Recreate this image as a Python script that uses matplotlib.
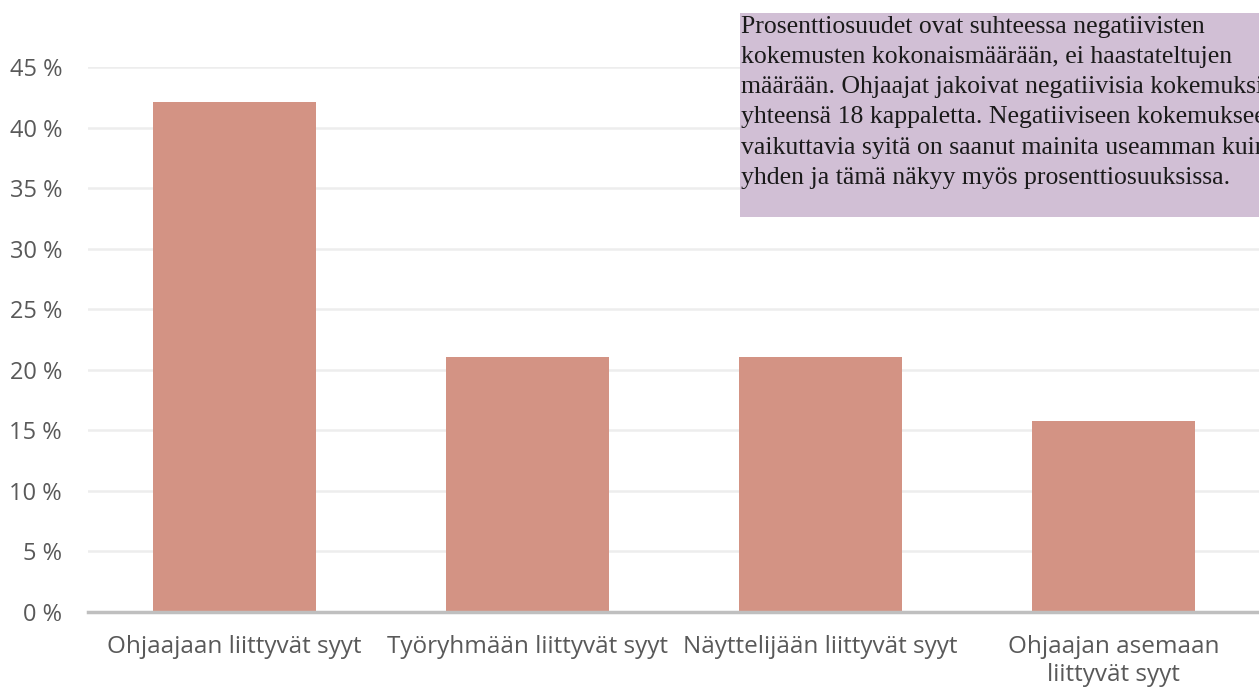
import matplotlib.pyplot as plt
from matplotlib.ticker import FuncFormatter, MultipleLocator

categories = ["Ohjaajaan liittyvät syyt", "Työryhmään liittyvät syyt",
              "Näyttelijään liittyvät syyt", "Ohjaajan asemaan\nliittyvät syyt"]
values = [0.421, 0.2105, 0.2105, 0.158]
note = ("Prosenttiosuudet ovat suhteessa negatiivisten\n"
        "kokemusten kokonaismäärään, ei haastateltujen\n"
        "määrään. Ohjaajat jakoivat negatiivisia kokemuksia\n"
        "yhteensä 18 kappaletta. Negatiiviseen kokemukseen\n"
        "vaikuttavia syitä on saanut mainita useamman kuin\n"
        "yhden ja tämä näkyy myös prosenttiosuuksissa.")

W, H = 1259, 688
fig = plt.figure(figsize=(W/100, H/100), dpi=100)
ax = fig.add_axes([88/W, (H-612)/H, (1260-88)/W, (612-67)/H])

x = range(len(categories))
ax.bar(x, values, width=0.557, color="#D39384", zorder=2)
ax.set_xlim(-0.5, 3.5)
ax.set_ylim(0, 0.45)
ax.yaxis.set_major_locator(MultipleLocator(0.05))
ax.yaxis.set_major_formatter(FuncFormatter(lambda v, p: f"{v*100:.0f} %"))
ax.grid(axis="y", color="#EDEDED", linewidth=1.8, zorder=0)
ax.set_axisbelow(True)
for s in ["top", "right", "left"]:
    ax.spines[s].set_visible(False)
ax.spines["bottom"].set_color("#BFBFBF")
ax.spines["bottom"].set_linewidth(2.5)
ax.spines["bottom"].set_zorder(3)
ax.set_xticks(list(x))
ax.set_xticklabels(categories, fontfamily="Open Sans", fontsize=17.5, color="#595959",
                   linespacing=1.25)
ax.tick_params(axis="x", length=0, pad=16.5)
ax.tick_params(axis="y", length=0, pad=18.7, labelsize=17, labelcolor="#595959")
for lab in ax.get_yticklabels():
    lab.set_fontfamily("Open Sans")

# note box
fig.patches.append(plt.Rectangle((740/W, (H-217)/H), (W-740)/W + 0.01, (217-13)/H,
                                 transform=fig.transFigure, facecolor="#D1BFD5",
                                 edgecolor="none", zorder=5))
fig.text(741/W, (H-16)/H, note, fontfamily="Liberation Serif", fontsize=18.5,
         color="#1a1a1a", va="top", ha="left", linespacing=1.48, zorder=6)

fig.savefig("out.png", dpi=100)
